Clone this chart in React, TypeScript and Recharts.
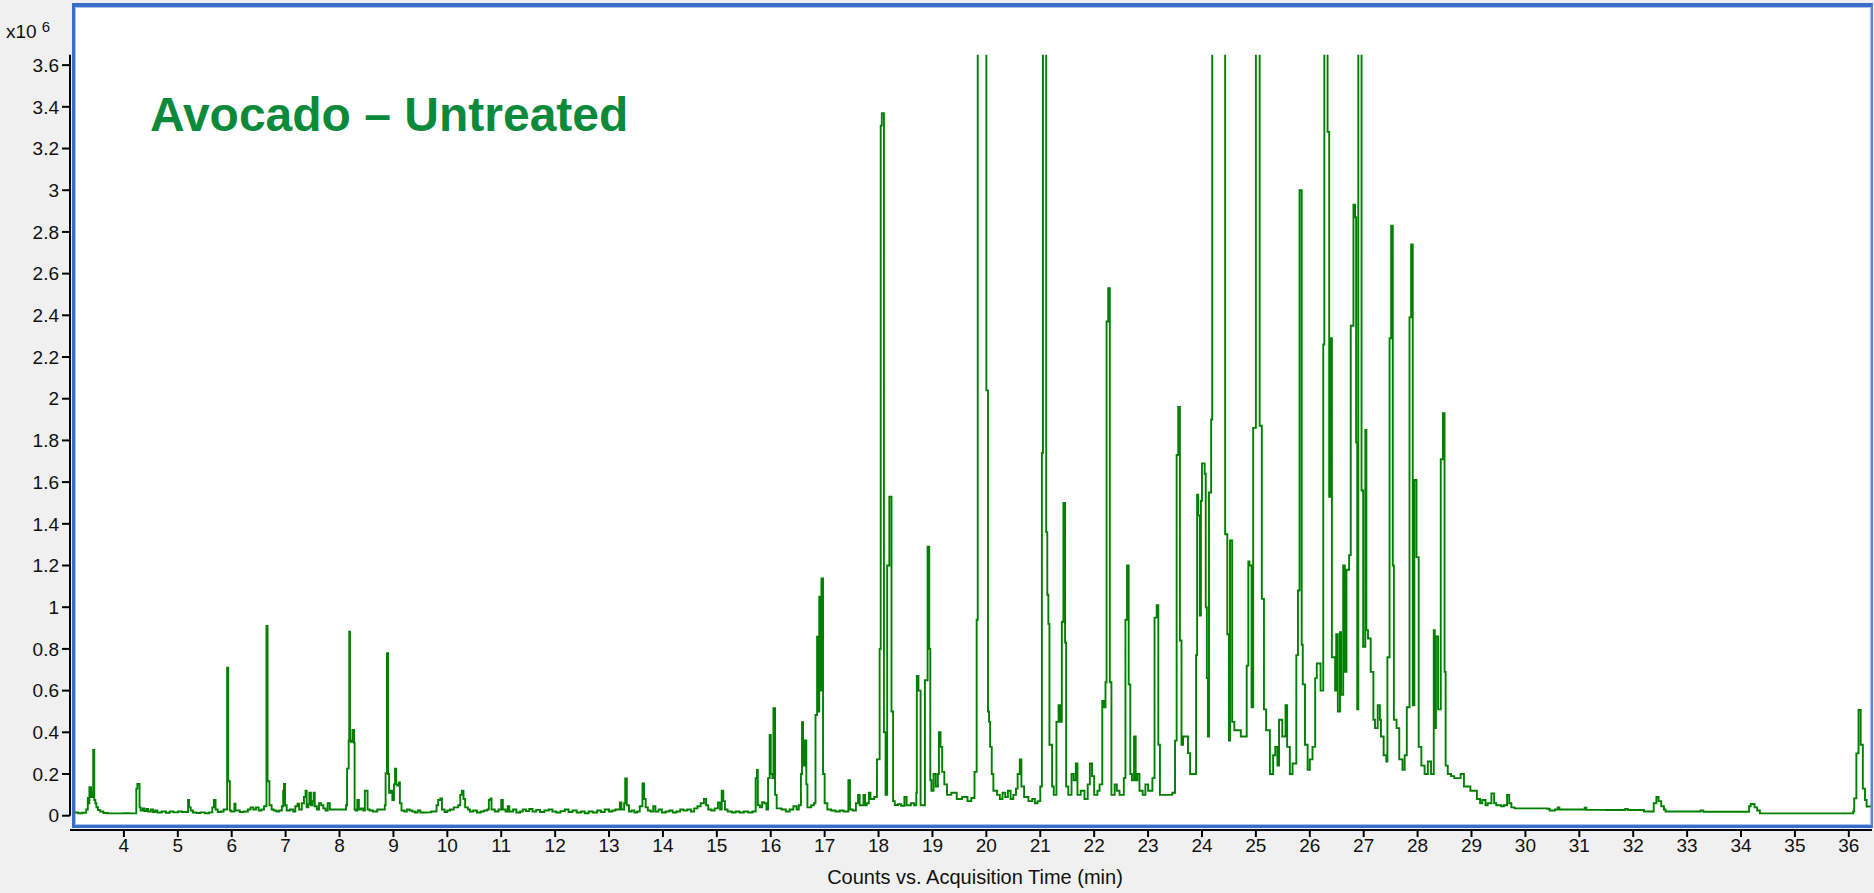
import React from "react";
import { LineChart, Line, XAxis, YAxis, ReferenceLine } from "recharts";

// Retention time (min) and abundance (x10^6 counts).
const segEarly: [number, number][] = [
  [3.09,0.015],[3.15,0.012],[3.22,0.014],[3.30,0.03],[3.33,0.085],[3.35,0.06],[3.36,0.137],[3.39,0.09],[3.42,0.11],[3.43,0.315],[3.45,0.075],[3.47,0.06],[3.49,0.04],[3.52,0.027],[3.56,0.02],[3.62,0.013],[3.70,0.011],[3.90,0.011],[4.00,0.012],[4.10,0.011],[4.22,0.011],
  [4.23,0.13],[4.25,0.152],[4.29,0.04],[4.31,0.025],[4.35,0.035],[4.38,0.022],[4.42,0.032],[4.45,0.02],[4.50,0.03],[4.54,0.018],[4.58,0.025],[4.62,0.015],[4.70,0.02],[4.78,0.014],[4.85,0.02],[4.92,0.016],[5.0,0.02],[5.08,0.018],
  [5.19,0.075],[5.21,0.04],[5.24,0.025],[5.28,0.015],[5.35,0.013],[5.42,0.016],[5.50,0.012],[5.58,0.016],[5.64,0.04],[5.67,0.075],[5.70,0.03],[5.74,0.018],[5.80,0.02],[5.85,0.03],
  [5.915,0.71],[5.935,0.165],[5.965,0.025],[5.99,0.02],[6.05,0.057],[6.07,0.025],[6.15,0.018],[6.22,0.02],[6.30,0.03],[6.35,0.04],[6.40,0.03],[6.45,0.04],[6.50,0.025],[6.55,0.03],[6.60,0.045],
  [6.645,0.91],[6.665,0.165],[6.70,0.05],[6.74,0.03],[6.78,0.025],[6.83,0.02],[6.88,0.025],[6.93,0.045],[6.955,0.12],[6.97,0.152],[6.99,0.05],[7.02,0.025],[7.08,0.03],[7.14,0.02],[7.18,0.045],[7.22,0.057],[7.25,0.03],[7.30,0.06],[7.34,0.09],[7.37,0.12],[7.39,0.04],[7.42,0.055],[7.44,0.11],[7.47,0.05],[7.50,0.07],[7.52,0.11],[7.54,0.045],[7.58,0.03],[7.62,0.06],[7.66,0.05],[7.70,0.035],[7.74,0.025],[7.78,0.06],[7.82,0.03],
  [8.12,0.05],[8.14,0.226],[8.17,0.36],[8.18,0.883],[8.195,0.36],[8.21,0.355],[8.24,0.411],[8.27,0.35],[8.28,0.03],[8.30,0.025],[8.33,0.075],[8.36,0.03],[8.40,0.035],[8.44,0.025],[8.47,0.12],[8.50,0.12],[8.52,0.03],[8.56,0.025],[8.62,0.02],[8.70,0.03],
  [8.84,0.05],[8.855,0.204],[8.88,0.779],[8.90,0.2],[8.92,0.11],[8.95,0.12],[8.98,0.075],[9.01,0.15],[9.03,0.226],[9.05,0.15],[9.07,0.145],[9.10,0.16],[9.12,0.06],[9.15,0.025],[9.20,0.02],[9.25,0.03],[9.30,0.025],[9.35,0.02],[9.40,0.015],[9.45,0.025],[9.50,0.015],[9.60,0.016],[9.70,0.02],[9.80,0.05],[9.83,0.075],[9.87,0.083],[9.90,0.03],[9.95,0.018],[10.0,0.025],[10.05,0.03],[10.12,0.04],[10.2,0.05],[10.24,0.1],[10.27,0.12],[10.30,0.08],[10.33,0.04],[10.38,0.03],[10.42,0.02],[10.48,0.025],[10.55,0.015],[10.62,0.02],[10.68,0.025],[10.74,0.03],[10.77,0.075],[10.80,0.083],[10.82,0.03],[10.88,0.02],[10.95,0.03],[11.0,0.075],[11.03,0.03],
];

const segMid: [number, number][] = [
  [11.08,0.02],[11.12,0.045],[11.15,0.02],[11.22,0.03],[11.28,0.015],[11.35,0.02],[11.40,0.03],[11.46,0.022],[11.52,0.032],[11.58,0.02],[11.65,0.028],[11.72,0.018],[11.80,0.025],[11.88,0.03],[11.95,0.02],[12.02,0.015],[12.1,0.022],[12.18,0.03],[12.25,0.018],[12.32,0.025],[12.4,0.015],[12.48,0.02],[12.55,0.012],[12.62,0.02],[12.70,0.015],[12.78,0.025],[12.85,0.018],[12.92,0.03],[13.0,0.02],[13.06,0.025],[13.12,0.03],[13.2,0.064],[13.23,0.03],[13.28,0.06],[13.30,0.179],[13.33,0.05],[13.37,0.02],[13.42,0.025],[13.47,0.015],[13.52,0.02],[13.57,0.045],[13.62,0.155],[13.65,0.08],[13.68,0.04],[13.72,0.025],[13.77,0.02],[13.82,0.045],[13.86,0.02],[13.92,0.03],[13.98,0.015],[14.05,0.02],[14.12,0.025],[14.18,0.015],[14.25,0.02],[14.32,0.03],[14.38,0.025],[14.45,0.03],[14.52,0.02],[14.58,0.035],[14.64,0.045],[14.70,0.06],[14.76,0.08],[14.80,0.05],[14.84,0.03],[14.90,0.025],[14.96,0.035],[15.02,0.064],[15.06,0.03],[15.09,0.12],[15.12,0.07],[15.15,0.03],[15.20,0.02],[15.28,0.015],[15.35,0.02],[15.42,0.015],[15.50,0.02],[15.58,0.015],[15.66,0.02],
];

const segRise: [number, number][] = [
  [15.72,0.18],[15.745,0.22],[15.76,0.05],[15.80,0.04],[15.84,0.065],[15.88,0.06],[15.92,0.03],[15.95,0.18],[15.98,0.387],[16.0,0.2],[16.03,0.18],[16.05,0.515],[16.08,0.1],[16.11,0.035],[16.2,0.03],[16.28,0.02],[16.35,0.03],[16.42,0.045],[16.48,0.03],[16.52,0.05],[16.56,0.2],[16.58,0.449],[16.60,0.24],[16.63,0.361],[16.66,0.15],[16.68,0.04],[16.75,0.05],[16.80,0.06],[16.83,0.483],[16.86,0.859],[16.88,0.5],[16.90,1.05],[16.92,0.6],[16.94,1.138],[16.97,0.2],[17.0,0.06],[17.05,0.03],[17.12,0.025],[17.20,0.02],[17.28,0.025],[17.35,0.02],[17.44,0.17],[17.47,0.03],[17.52,0.025],[17.58,0.06],[17.62,0.1],[17.65,0.05],[17.72,0.1],[17.75,0.05],[17.78,0.06],[17.82,0.11],[17.85,0.08],[17.92,0.09],[17.97,0.27],[18.02,0.8],
];

const segMain: [number, number][] = [
  [18.04,3.31],[18.06,3.37],[18.10,0.4],[18.13,0.1],[18.16,1.2],[18.20,1.53],[18.24,0.5],[18.27,0.07],[18.30,0.051],[18.36,0.055],[18.42,0.048],[18.48,0.09],[18.52,0.05],[18.60,0.06],[18.66,0.05],
  [18.70,0.11],[18.71,0.67],[18.74,0.6],[18.78,0.05],[18.86,0.65],[18.91,1.29],[18.94,0.8],[18.96,0.17],[18.98,0.12],[19.02,0.2],[19.06,0.14],[19.10,0.2],[19.12,0.4],[19.15,0.33],[19.18,0.21],[19.22,0.15],[19.27,0.1],[19.35,0.11],[19.45,0.08],[19.55,0.09],[19.65,0.07],[19.72,0.085],
  [19.78,0.21],[19.82,0.94],[19.84,5],[20.0,2.04],[20.03,0.5],[20.05,0.45],[20.07,0.33],[20.1,0.2],[20.13,0.12],[20.2,0.1],[20.25,0.08],[20.3,0.11],[20.35,0.09],[20.4,0.12],[20.45,0.08],[20.5,0.1],
  [20.55,0.13],[20.58,0.2],[20.62,0.27],[20.65,0.14],[20.7,0.09],[20.78,0.07],[20.85,0.08],[20.9,0.06],[20.95,0.07],[21.0,0.14],
  [21.03,1.74],[21.05,5],[21.11,1.36],[21.13,1.06],[21.15,0.92],[21.17,0.34],[21.22,0.14],[21.25,0.1],
  [21.30,0.45],[21.34,0.53],[21.37,0.45],[21.40,0.93],[21.43,1.5],[21.46,0.83],[21.48,0.14],[21.52,0.1],[21.58,0.2],[21.62,0.17],[21.66,0.25],[21.69,0.1],[21.75,0.12],
  [21.82,0.08],[21.88,0.15],[21.92,0.25],[21.96,0.19],[22.0,0.1],[22.06,0.12],
  [22.10,0.15],[22.15,0.55],[22.18,0.52],[22.21,0.64],[22.23,2.37],[22.26,2.53],[22.29,0.64],[22.32,0.1],[22.38,0.15],[22.42,0.12],[22.47,0.1],
  [22.55,0.18],[22.58,0.94],[22.61,1.2],[22.64,0.63],[22.67,0.2],[22.70,0.17],[22.74,0.38],[22.77,0.17],[22.80,0.2],[22.84,0.12],[22.9,0.1],[22.95,0.15],
];

const segLate: [number, number][] = [
  [23.0,0.12],[23.08,0.18],[23.12,0.95],[23.16,1.01],[23.19,0.34],[23.22,0.1],[23.3,0.1],[23.38,0.1],[23.45,0.11],[23.50,0.36],
  [23.53,1.73],[23.56,1.96],[23.59,0.84],[23.62,0.34],[23.65,0.38],[23.70,0.38],[23.74,0.3],[23.78,0.2],[23.84,0.2],
  [23.89,0.77],[23.91,1.54],[23.93,1.44],[23.96,0.96],[23.98,1.51],[24.0,1.69],[24.05,1.64],[24.07,1.0],[24.09,0.66],[24.11,0.38],[24.13,1.55],[24.17,1.9],
  [24.19,5],[24.43,1.35],[24.47,0.87],[24.5,0.36],[24.52,1.32],[24.56,0.45],[24.6,0.41],[24.67,0.41],[24.72,0.38],
  [24.78,0.38],[24.83,0.72],[24.86,1.22],[24.88,1.2],[24.92,0.52],[24.95,1.86],[25.0,5],[25.07,1.87],[25.11,1.04],[25.15,0.51],[25.19,0.41],[25.26,0.2],[25.29,0.2],
  [25.32,0.29],[25.36,0.33],[25.40,0.24],[25.43,0.46],[25.49,0.38],[25.55,0.53],[25.58,0.33],[25.63,0.2],[25.68,0.25],
  [25.75,0.77],[25.78,1.08],[25.81,3.0],[25.85,0.82],[25.87,0.63],[25.91,0.34],[25.96,0.22],[26.0,0.27],[26.05,0.33],
  [26.10,0.66],[26.13,0.73],[26.20,0.6],[26.25,2.26],[26.27,5],[26.33,3.28],[26.36,1.53],[26.38,2.29],[26.41,0.76],[26.47,0.6],[26.49,0.87],[26.52,0.5],
  [26.56,0.88],[26.58,0.58],[26.62,1.2],[26.65,0.69],[26.68,1.18],[26.73,1.25],[26.76,2.35],[26.81,2.93],[26.84,2.87],[26.86,1.79],[26.88,0.51],[26.9,5],[26.96,1.56],[26.99,0.81],[27.03,1.85],[27.05,0.89],[27.08,0.85],[27.13,0.69],[27.18,0.46],[27.21,0.42],[27.26,0.53],[27.30,0.46],[27.32,0.38],[27.37,0.29],[27.42,0.26],
  [27.44,0.76],[27.48,2.29],[27.51,2.83],[27.54,1.2],[27.56,0.46],[27.61,0.42],[27.66,0.27],[27.72,0.22],[27.76,0.29],
  [27.8,0.52],[27.85,2.39],[27.88,2.74],[27.91,0.53],[27.94,1.61],[27.98,1.24],[28.02,0.33],[28.07,0.24],[28.13,0.2],[28.19,0.26],[28.25,0.2],
  [28.30,0.89],[28.32,0.42],[28.34,0.86],[28.38,0.51],[28.43,1.71],[28.47,1.93],[28.50,0.69],[28.52,0.24],[28.56,0.2],[28.62,0.19],[28.68,0.18],[28.8,0.2],[28.86,0.14],[28.98,0.12],[29.1,0.08],
];

const segTail: [number, number][] = [
  [29.16,0.06],[29.2,0.075],[29.26,0.05],[29.3,0.06],[29.37,0.107],[29.42,0.06],[29.46,0.05],[29.55,0.045],[29.6,0.05],[29.66,0.1],[29.70,0.06],[29.74,0.04],[29.8,0.035],[29.9,0.035],[30.0,0.035],[30.4,0.033],[30.45,0.025],[30.55,0.03],[30.6,0.04],[30.63,0.03],[30.8,0.03],[31.0,0.03],[31.1,0.038],[31.13,0.028],[31.5,0.027],[31.85,0.032],[31.9,0.027],[32.1,0.027],[32.2,0.02],[32.38,0.06],[32.43,0.09],[32.47,0.07],[32.52,0.045],[32.57,0.03],[32.6,0.02],[33.2,0.02],[33.25,0.025],[33.3,0.019],[34.1,0.019],[34.15,0.045],[34.18,0.056],[34.25,0.04],[34.3,0.025],[34.35,0.011],[35.0,0.011],[35.7,0.011],[36.0,0.011],
  [36.08,0.02],[36.1,0.083],[36.14,0.299],[36.18,0.507],[36.22,0.34],[36.26,0.13],[36.30,0.075],[36.33,0.044],[36.39,0.04],
];

const xTicks = [4,5,6,7,8,9,10,11,12,13,14,15,16,17,18,19,20,21,22,23,24,25,26,27,28,29,30,31,32,33,34,35,36];
const yTicks = [0,0.2,0.4,0.6,0.8,1,1.2,1.4,1.6,1.8,2,2.2,2.4,2.6,2.8,3,3.2,3.4,3.6];

const chartTitle = "Avocado – Untreated";
const xAxisTitle = "Counts vs. Acquisition Time (min)";

const data = [...segEarly, ...segMid, ...segRise, ...segMain, ...segLate, ...segTail].map(([t, v]) => ({ t, v }));

const FONT = "'Liberation Sans', Arial, sans-serif";

export default function App() {
  return (
    <div style={{ position: "absolute", left: 0, top: 0, width: 1874, height: 893, background: "#f0f0f0", overflow: "hidden" }}>
      <div
        style={{
          position: "absolute",
          left: 72,
          top: 3,
          width: 1796,
          height: 818,
          background: "#ffffff",
          borderTop: "4px solid #3a6cc9",
          borderLeft: "3px solid #3a6cc9",
          borderBottom: "3px solid #3a6cc9",
          borderRight: "2px solid #5a86d6",
          boxShadow: "inset 0 0 0 1px #a9c1ec",
        }}
      />
      <div style={{ position: "absolute", left: 0, top: 0 }}>
        <LineChart width={1874} height={893} data={data} margin={{ top: 54.7, right: 2, bottom: 0, left: 0 }}>
          <XAxis
            dataKey="t"
            type="number"
            domain={[3.0, 36.43]}
            ticks={xTicks}
            allowDataOverflow
            height={63}
            tickSize={7}
            tickMargin={2}
            stroke="#000"
            axisLine={{ stroke: "#000", strokeWidth: 2 }}
            tickLine={{ stroke: "#000", strokeWidth: 2 }}
            tick={{ fill: "#111", fontSize: 19, fontFamily: FONT }}
            interval={0}
          />
          <YAxis
            type="number"
            domain={[-0.0686, 3.65]}
            ticks={yTicks}
            allowDataOverflow
            width={70}
            tickSize={8}
            tickMargin={3}
            axisLine={false}
            tickLine={{ stroke: "#000", strokeWidth: 2 }}
            tick={{ fill: "#111", fontSize: 19, fontFamily: FONT }}
            tickFormatter={(v: number) => String(Number(v.toFixed(1)))}
            interval={0}
          />
          <ReferenceLine
            segment={[{ x: 3.0, y: 0 }, { x: 3.0, y: 3.65 }]}
            stroke="#000"
            strokeWidth={2}
            ifOverflow="visible"
          />
          <Line
            type="stepAfter"
            dataKey="v"
            stroke="#008000"
            strokeWidth={1.9}
            dot={false}
            isAnimationActive={false}
          />
        </LineChart>
      </div>
      <div style={{ position: "absolute", left: 6, top: 22, fontFamily: FONT, fontSize: 19, color: "#111", lineHeight: "19px" }}>
        x10<span style={{ fontSize: 15, position: "relative", top: -6, marginLeft: 5 }}>6</span>
      </div>
      <div
        style={{
          position: "absolute",
          left: 150,
          top: 91,
          fontFamily: FONT,
          fontWeight: "bold",
          fontSize: 48,
          lineHeight: "48px",
          color: "#0b8a3c",
          whiteSpace: "nowrap",
        }}
      >
        {chartTitle}
      </div>
      <div
        style={{
          position: "absolute",
          left: 775,
          width: 400,
          top: 866,
          textAlign: "center",
          fontFamily: FONT,
          fontSize: 20,
          lineHeight: "22px",
          color: "#111",
          whiteSpace: "nowrap",
        }}
      >
        {xAxisTitle}
      </div>
    </div>
  );
}
